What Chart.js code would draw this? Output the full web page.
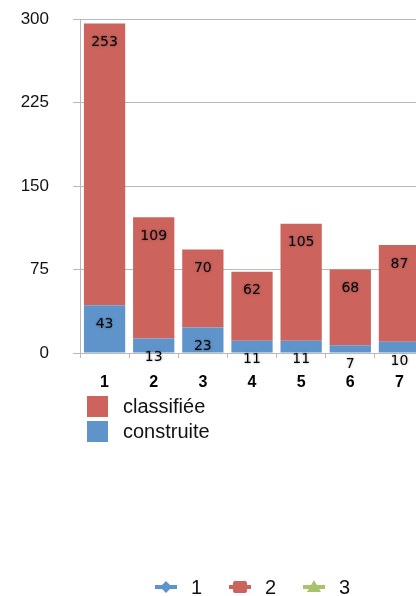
<!DOCTYPE html>
<html>
<head>
<meta charset="utf-8">
<script src="https://cdn.jsdelivr.net/npm/chart.js@4/dist/chart.umd.min.js"></script>
<style>
  html, body { margin: 0; padding: 0; background: #fff; overflow: hidden; }
  #wrap { width: 424px; height: 596px; }
</style>
</head>
<body>
<div id="wrap"><canvas id="chart" width="424" height="596"></canvas></div>
<script>
// données
const categories = ['1', '2', '3', '4', '5', '6', '7'];
const construite = [43, 13, 23, 11, 11, 7, 10];
const classifiee = [253, 109, 70, 62, 105, 68, 87];
const yTicks = [0, 75, 150, 225, 300];
const lineLegend = ['1', '2', '3'];

const RED = '#cc645d';
const BLUE = '#5f94cb';
const GREEN = '#a8c46b';
const GRID = '#b9b9b9';

// étiquettes de valeur (au-dessus de chaque segment, avec ombre)
const valueLabels = {
  id: 'valueLabels',
  afterDatasetsDraw(chart) {
    const ctx = chart.ctx;
    ctx.save();
    ctx.font = '14px "DejaVu Sans"';
    ctx.fillStyle = '#000';
    ctx.textAlign = 'center';
    ctx.textBaseline = 'middle';
    ctx.shadowColor = 'rgba(0,0,0,0.35)';
    ctx.shadowBlur = 3;
    chart.data.datasets.forEach((ds, i) => {
      chart.getDatasetMeta(i).data.forEach((bar, j) => {
        ctx.fillText(String(ds.data[j]), bar.x, bar.y + 19);
      });
    });
    ctx.restore();
  }
};

// légendes dessinées à la main
const legends = {
  id: 'legends',
  afterDraw(chart) {
    const ctx = chart.ctx;
    const area = chart.chartArea;
    ctx.save();
    // légende des barres
    const items = [[RED, 'classifiée'], [BLUE, 'construite']];
    ctx.font = '20px "Liberation Sans"';
    ctx.textBaseline = 'middle';
    items.forEach((it, k) => {
      const y = area.bottom + 43 + k * 25;
      ctx.fillStyle = it[0];
      ctx.fillRect(area.left + 7, y, 21, 21);
      ctx.fillStyle = '#111';
      ctx.fillText(it[1], area.left + 43, y + 11);
    });
    // légende des lignes
    const colors = [BLUE, RED, GREEN];
    const y0 = 587;
    lineLegend.forEach((lab, k) => {
      const x = 155 + k * 74;
      ctx.strokeStyle = colors[k];
      ctx.fillStyle = colors[k];
      ctx.lineWidth = 4;
      ctx.beginPath();
      ctx.moveTo(x, y0);
      ctx.lineTo(x + 22, y0);
      ctx.stroke();
      const cx = x + 11;
      ctx.beginPath();
      if (k === 0) {
        ctx.moveTo(cx, y0 - 6); ctx.lineTo(cx + 6, y0); ctx.lineTo(cx, y0 + 6); ctx.lineTo(cx - 6, y0);
      } else if (k === 1) {
        ctx.roundRect(cx - 7, y0 - 6, 14, 12, 2);
      } else {
        ctx.moveTo(cx, y0 - 7); ctx.lineTo(cx + 7, y0 + 5); ctx.lineTo(cx - 7, y0 + 5);
      }
      ctx.closePath();
      ctx.fill();
      ctx.fillStyle = '#111';
      ctx.fillText(lab, x + 36, y0 + 1);
    });
    ctx.restore();
  }
};

new Chart(document.getElementById('chart'), {
  type: 'bar',
  data: {
    labels: categories,
    datasets: [
      { label: 'construite', data: construite, backgroundColor: BLUE },
      { label: 'classifiée', data: classifiee, backgroundColor: RED }
    ]
  },
  options: {
    responsive: false,
    animation: false,
    devicePixelRatio: 1,
    layout: { padding: { top: 19, right: 0, bottom: 203, left: 0 } },
    datasets: { bar: { barPercentage: 0.84, categoryPercentage: 1 } },
    plugins: { legend: { display: false }, tooltip: { enabled: false } },
    scales: {
      x: {
        stacked: true,
        grid: { drawOnChartArea: false, drawTicks: true, tickLength: 5, color: GRID },
        border: { color: GRID },
        ticks: { color: '#000', font: { family: 'Liberation Sans', size: 16, weight: 'bold' }, padding: 15 },
        afterFit(scale) { scale.height = 40; }
      },
      y: {
        stacked: true,
        min: 0,
        max: 300,
        afterBuildTicks(scale) { scale.ticks = yTicks.map(v => ({ value: v })); },
        grid: { color: GRID, tickLength: 7 },
        border: { color: GRID },
        ticks: { color: '#111', font: { family: 'Liberation Sans', size: 17 }, padding: 24 },
        afterFit(scale) {
          scale.width = 80;
          scale.paddingTop = 0;
          scale.paddingBottom = 0;
        }
      }
    }
  },
  plugins: [valueLabels, legends]
});
</script>
</body>
</html>
